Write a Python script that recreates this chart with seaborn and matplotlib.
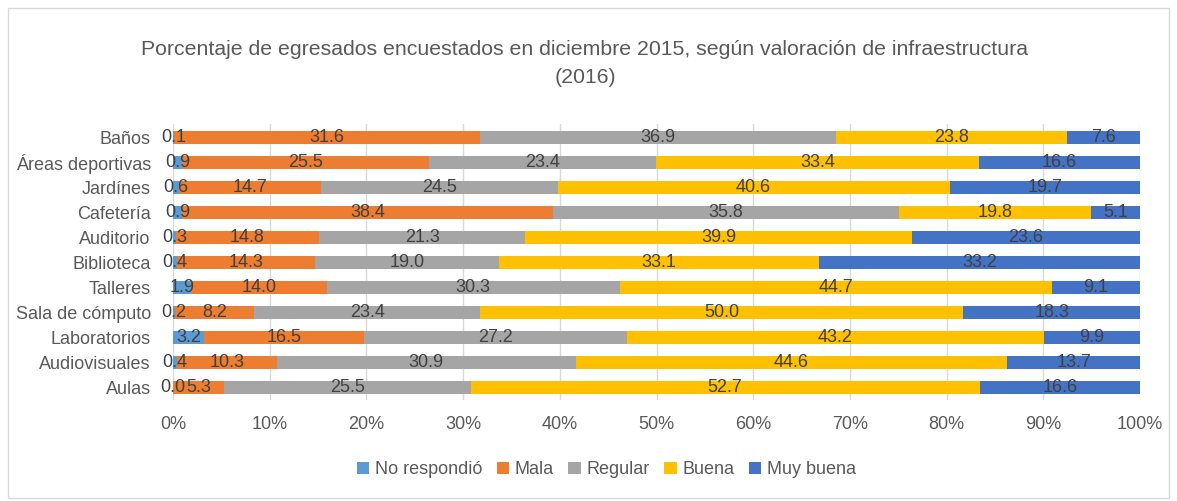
import matplotlib
matplotlib.use("Agg")

import numpy as np
import pandas as pd
import matplotlib.pyplot as plt
import seaborn as sns
from matplotlib.patches import Rectangle, Patch

# Datos (porcentajes)
categorias = ["Baños", "Áreas deportivas", "Jardínes", "Cafetería", "Auditorio",
              "Biblioteca", "Talleres", "Sala de cómputo", "Laboratorios",
              "Audiovisuales", "Aulas"]
no_respondio = [0.1, 0.9, 0.6, 0.9, 0.3, 0.4, 1.9, 0.2, 3.2, 0.4, 0.0]
mala = [31.6, 25.5, 14.7, 38.4, 14.8, 14.3, 14.0, 8.2, 16.5, 10.3, 5.3]
regular = [36.9, 23.4, 24.5, 35.8, 21.3, 19.0, 30.3, 23.4, 27.2, 30.9, 25.5]
buena = [23.8, 33.4, 40.6, 19.8, 39.9, 33.1, 44.7, 50.0, 43.2, 44.6, 52.7]
muy_buena = [7.6, 16.6, 19.7, 5.1, 23.6, 33.2, 9.1, 18.3, 9.9, 13.7, 16.6]

series = ["No respondió", "Mala", "Regular", "Buena", "Muy buena"]
colores = ["#5B9BD5", "#ED7D31", "#A5A5A5", "#FFC000", "#4472C4"]

sns.set_theme(style="white")
plt.rcParams["font.family"] = ["Liberation Sans", "DejaVu Sans"]

df = pd.DataFrame({"Categoria": categorias, "No respondió": no_respondio,
                   "Mala": mala, "Regular": regular, "Buena": buena,
                   "Muy buena": muy_buena})
valores = df[series].to_numpy()
# 100% apilado: normalizar cada fila
norm = valores / valores.sum(axis=1, keepdims=True) * 100
acum = np.cumsum(norm, axis=1)

fig = plt.figure(figsize=(11.77, 5.01), dpi=100)
ax = fig.add_axes([0.147, 0.2006, 0.8216, 0.5509])

# dibujar de la suma mayor a la menor para apilar
for i in range(len(series) - 1, -1, -1):
    sns.barplot(x=acum[:, i], y=categorias, color=colores[i], orient="h",
                width=0.52, saturation=1, ax=ax, zorder=2, edgecolor="none")

# etiquetas de datos
izq = acum - norm
for r in range(len(categorias)):
    for i in range(len(series)):
        ax.text(izq[r, i] + norm[r, i] / 2, r, f"{valores[r, i]:.1f}",
                ha="center", va="center", fontsize=13, color="#404040", zorder=3)

ax.set_xlim(0, 100)
ax.set_ylim(10.5, -0.5)
ax.set_xticks(np.arange(0, 101, 10))
ax.set_xticklabels([f"{t}%" for t in range(0, 101, 10)])
ax.grid(axis="x", color="#D9D9D9", linewidth=1, zorder=0)
ax.set_axisbelow(True)
for s in ax.spines.values():
    s.set_visible(False)
ax.tick_params(axis="both", length=0, labelsize=13, labelcolor="#595959")
ax.tick_params(axis="x", pad=11)
ax.tick_params(axis="y", pad=16)
ax.set_xlabel("")
ax.set_ylabel("")

fig.text(0.497, 0.873,
         "Porcentaje de egresados encuestados en diciembre 2015, según valoración de infraestructura\n(2016)",
         ha="center", va="center", fontsize=15.3, color="#595959", linespacing=1.6)

handles = [Patch(facecolor=c, edgecolor="none") for c in colores]
fig.legend(handles, series, loc="center", bbox_to_anchor=(0.515, 0.062), ncol=5,
           frameon=False, fontsize=13, labelcolor="#595959", handlelength=0.7,
           handleheight=0.7, handletextpad=0.3, columnspacing=0.8)

fig.patches.append(Rectangle((0.007, 0.006), 0.986, 0.978, transform=fig.transFigure,
                             fill=False, edgecolor="#D9D9D9", linewidth=1))

fig.savefig("out.png", dpi=100)
plt.close(fig)
